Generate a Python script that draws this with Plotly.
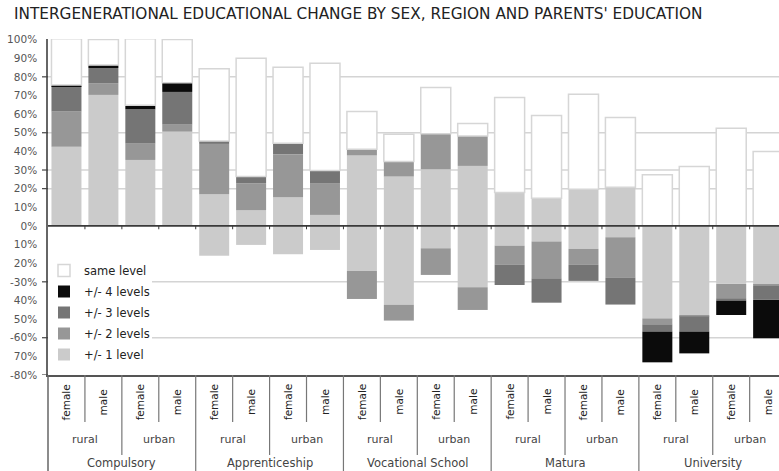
import plotly.graph_objects as go

title_text = "INTERGENERATIONAL EDUCATIONAL CHANGE BY SEX, REGION AND PARENTS' EDUCATION"
education = ["Compulsory", "Apprenticeship", "Vocational School", "Matura", "University"]
regions = ["rural", "urban"]
sexes = ["female", "male"]

level_names = ["+/- 1 level", "+/- 2 levels", "+/- 3 levels", "+/- 4 levels"]
same_name = "same level"

# upward changes (% of each group), order: edu -> region -> sex
up_1 = [42.5, 70.3, 35.4, 50.6, 17.0, 8.4, 15.4, 5.9, 37.8, 26.5, 30.4, 32.2, 17.9, 14.9, 19.7, 20.8, 0, 0, 0, 0]
up_2 = [19.0, 6.3, 9.0, 4.0, 27.0, 14.5, 23.1, 16.8, 3.4, 8.0, 19.0, 16.1, 0, 0, 0, 0, 0, 0, 0, 0]
up_3 = [13.5, 8.1, 18.2, 17.3, 1.6, 3.6, 5.9, 7.0, 0, 0, 0, 0, 0, 0, 0, 0, 0, 0, 0, 0]
up_4 = [0.6, 1.6, 2.2, 4.9, 0, 0, 0, 0, 0, 0, 0, 0, 0, 0, 0, 0, 0, 0, 0, 0]
same_level = [24.8, 13.7, 35.7, 23.2, 38.7, 63.5, 40.8, 57.6, 20.2, 14.7, 24.9, 6.6, 51.0, 44.3, 51.0, 37.4, 27.4, 31.9, 52.4, 39.9]
# downward changes (% of each group)
down_1 = [0, 0, 0, 0, 16.0, 10.2, 15.2, 12.9, 24.2, 42.4, 12.0, 32.9, 10.6, 8.4, 12.3, 6.1, 49.6, 48.1, 31.1, 31.7]
down_2 = [0, 0, 0, 0, 0, 0, 0, 0, 15.0, 8.4, 14.3, 12.2, 10.3, 19.7, 8.6, 21.5, 3.2, 0.5, 7.7, 0.5]
down_3 = [0, 0, 0, 0, 0, 0, 0, 0, 0, 0, 0, 0, 10.8, 13.1, 8.6, 14.6, 3.9, 8.1, 1.3, 7.5]
down_4 = [0, 0, 0, 0, 0, 0, 0, 0, 0, 0, 0, 0, 0, 0, 0, 0, 16.5, 11.7, 7.7, 20.6]

ytick_vals = [100, 90, 80, 70, 60, 50, 40, 30, 20, 10, 0, -10, -20, -30, -40, -50, -60, -70, -80]
ytick_text = ["100%", "90%", "80%", "70%", "60%", "50%", "40%", "30%", "20%", "10%", "0%",
              "10%", "20%", "-30%", "40%", "50%", "-60%", "70%", "-80%"]
grid_vals = [80, 50, 30, 20, -30, -60]

colors = ["#cbcbcb", "#979797", "#757575", "#0b0b0b"]
FONT = "DejaVu Sans"

labels = []
for e in education:
    for r in regions:
        for s in sexes:
            labels.append((e, r, s))
xs = list(range(len(labels)))

fig = go.Figure()
ups = [up_1, up_2, up_3, up_4]
downs = [down_1, down_2, down_3, down_4]
ranks = [5, 4, 3, 2]
for name, vals, col, rk in zip(level_names, ups, colors, ranks):
    fig.add_trace(go.Bar(x=xs, y=vals, name=name, legendgroup=name, legendrank=rk,
                         marker=dict(color=col, line=dict(width=0))))
fig.add_trace(go.Bar(x=xs, y=same_level, name=same_name, legendgroup=same_name, legendrank=1,
                     marker=dict(color="#ffffff", line=dict(color="#d6d6d6", width=1.5))))
for name, vals, col, rk in zip(level_names, downs, colors, ranks):
    fig.add_trace(go.Bar(x=xs, y=[-v for v in vals], name=name, legendgroup=name, legendrank=rk,
                         showlegend=False, marker=dict(color=col, line=dict(width=0))))

W, H = 779, 471
ML, MT, MB = 48, 39, 96
plot_h = H - MT - MB
plot_w = W - ML
cat_px = 36.93
x_max = -0.5 + plot_w / cat_px

def py_to_paper(py):
    return (H - MB - py) / plot_h

shapes = []
# gridlines
legend_right = (152 - ML) / plot_w
for g in grid_vals:
    x0 = legend_right if g < 0 else 0
    shapes.append(dict(type="line", xref="paper", yref="y", x0=x0, x1=1, y0=g, y1=g,
                       line=dict(color="#d4d4d4", width=1.5), layer="below"))
    shapes.append(dict(type="line", xref="paper", yref="y", x0=-6 / plot_w, x1=0, y0=g, y1=g,
                       line=dict(color="#444444", width=1.2), layer="above"))
shapes.append(dict(type="line", xref="paper", yref="y", x0=-6 / plot_w, x1=0, y0=-80, y1=-80,
                   line=dict(color="#444444", width=1.2), layer="above"))
# zero line on top of bars
shapes.append(dict(type="line", xref="paper", yref="y", x0=0, x1=1, y0=0, y1=0,
                   line=dict(color="#3a3a3a", width=1.6), layer="above"))
# small ticks on the zero line at category boundaries
for k in range(1, len(labels) + 1):
    shapes.append(dict(type="line", xref="x", yref="y", x0=k - 0.5, x1=k - 0.5, y0=0, y1=-1.8,
                       line=dict(color="#3a3a3a", width=1), layer="above"))
# separators under the axis
sep_sex = py_to_paper(422)
sep_reg = py_to_paper(455)
sep_edu = py_to_paper(471)
for k in range(0, len(labels) + 1):
    if k % 4 == 0:
        y1 = sep_edu
    elif k % 2 == 0:
        y1 = sep_reg
    else:
        y1 = sep_sex
    if k == 0:
        shapes.append(dict(type="line", xref="paper", yref="paper", x0=0, x1=0, y0=0, y1=y1,
                           line=dict(color="#666666", width=1.5)))
    else:
        shapes.append(dict(type="line", xref="x", yref="paper", x0=k - 0.5, x1=k - 0.5, y0=0, y1=y1,
                           line=dict(color="#777777", width=1.2)))

annotations = []
for i, (e, r, s) in enumerate(labels):
    annotations.append(dict(x=i, xref="x", y=py_to_paper(402), yref="paper", text=s,
                            textangle=-90, showarrow=False, xanchor="center", yanchor="middle",
                            font=dict(family=FONT, size=10.5, color="#222222")))
for ei, e in enumerate(education):
    for ri, r in enumerate(regions):
        c = ei * 4 + ri * 2 + 0.5
        annotations.append(dict(x=c, xref="x", y=py_to_paper(439), yref="paper", text=r,
                                showarrow=False, xanchor="center", yanchor="middle",
                                font=dict(family=FONT, size=11, color="#444444")))
    c = ei * 4 + 1.5
    annotations.append(dict(x=c, xref="x", y=py_to_paper(463), yref="paper", text=e,
                            showarrow=False, xanchor="center", yanchor="middle",
                            font=dict(family=FONT, size=11.5, color="#444444")))

fig.update_layout(
    width=W, height=H,
    margin=dict(l=ML, r=0, t=MT, b=MB, pad=0, autoexpand=False),
    barmode="relative",
    bargap=1 - 30 / cat_px,
    plot_bgcolor="#ffffff",
    paper_bgcolor="#ffffff",
    title=dict(text=title_text, xref="container", yref="container", x=14 / W, xanchor="left",
               y=1 - 14 / H, yanchor="middle", automargin=False,
               font=dict(family=FONT, size=15.3, color="#222222")),
    xaxis=dict(range=[-0.5, x_max], showgrid=False, zeroline=False, showticklabels=False,
               ticks="", showline=True, linecolor="#555555", linewidth=1.5, fixedrange=True,
               automargin=False),
    yaxis=dict(range=[-80, 100.3], tickvals=ytick_vals, ticktext=ytick_text, showgrid=False,
               zeroline=False, showline=True, linecolor="#666666", linewidth=1.5,
               ticks="outside", ticklen=7, tickcolor="rgba(0,0,0,0)", automargin=False,
               tickfont=dict(family=FONT, size=10.5, color="#555555"), fixedrange=True),
    legend=dict(x=(44 - ML) / plot_w, xanchor="left", y=py_to_paper(256), yanchor="top",
                traceorder="grouped", tracegroupgap=2, bgcolor="rgba(0,0,0,0)",
                font=dict(family=FONT, size=11.5, color="#222222")),
    shapes=shapes,
    annotations=annotations,
    showlegend=True,
)

fig.write_html("out.html", config={"displayModeBar": False},
               post_script="document.body.style.margin='0';document.body.style.overflow='hidden';")
